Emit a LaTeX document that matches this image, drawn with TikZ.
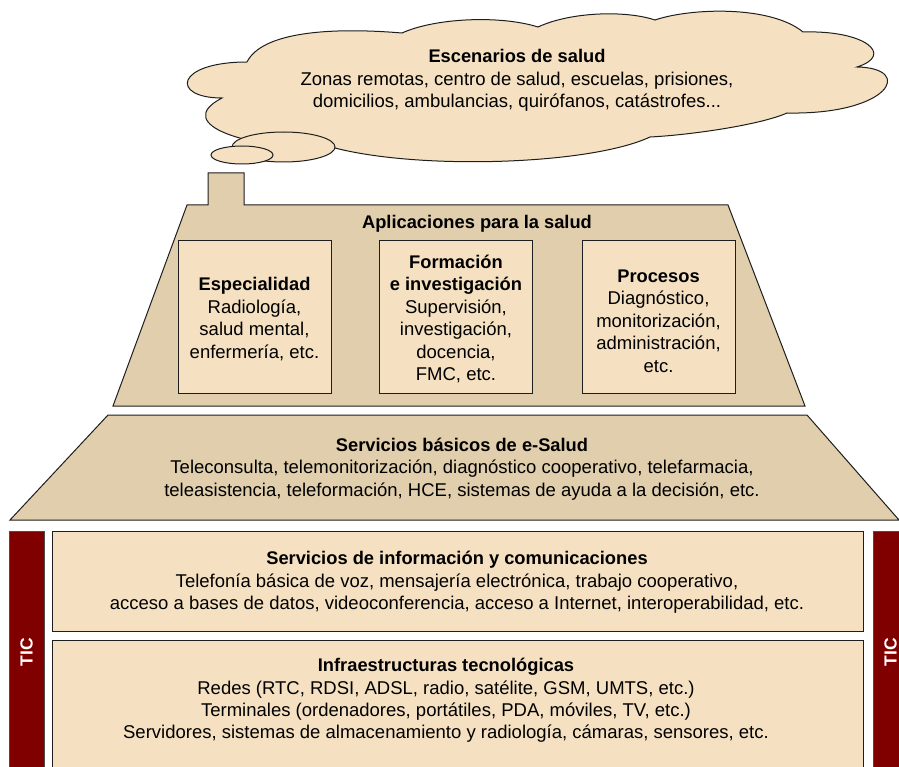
\documentclass[tikz,border=0pt]{standalone}
\usepackage{fontspec}
\setmainfont{Liberation Sans}
\definecolor{tan}{HTML}{E0CEAC}
\definecolor{cream}{HTML}{F5E1C1}
\definecolor{ticred}{HTML}{800000}
\definecolor{edge}{HTML}{1E1E1E}
% headings are set a little tighter than the body lines
\newcommand{\hd}[1]{{\fontsize{18.3}{22.4}\selectfont\bfseries #1}}
\begin{document}
\begin{tikzpicture}[x=1pt,y=-1pt,
  outline/.style={draw=edge, line width=1pt, line join=miter},
  txt/.style={align=center, inner sep=0pt, font=\fontsize{18.5}{22.4}\selectfont},
  appbox/.style={outline, fill=cream, minimum width=153pt, minimum height=152pt,
                 inner sep=0pt},
  layerbox/.style={outline, fill=cream},
  ticbar/.style={draw=black!70, line width=1pt, fill=ticred, rotate=90,
                 minimum width=242pt, minimum height=35pt, inner sep=0pt,
                 text=white, font=\fontsize{17.5}{20}\selectfont\bfseries}
]
\useasboundingbox (0,0) rectangle (899,767);

% ---- cloud of health scenarios ----
\draw[outline, fill=cream]
  (222,98) .. controls (170,98) and (175,62) .. (247,62)
  .. controls (262,32) and (330,27) .. (402,33)
  .. controls (435,18) and (500,15) .. (538,27)
  .. controls (570,12) and (625,10) .. (655,20)
  .. controls (690,8) and (770,5) .. (803,32)
  .. controls (865,30) and (895,55) .. (857,67)
  .. controls (915,68) and (890,115) .. (787,113)
  .. controls (760,125) and (690,135) .. (650,137)
  .. controls (590,165) and (420,170) .. (335,148)
  .. controls (250,150) and (170,125) .. (222,98) -- cycle;
\draw[outline, fill=cream] (283.5,147) ellipse [x radius=51.5, y radius=15];
\draw[outline, fill=cream] (242,155) ellipse [x radius=31, y radius=9];
\node[txt] (scen) at (517,80.5)
  {\hd{Escenarios de salud}\\
   Zonas remotas, centro de salud, escuelas, prisiones,\\
   domicilios, ambulancias, quirófanos, catástrofes...};

% ---- roof with chimney: health applications ----
\draw[outline, fill=tan]
  (113,406) -- (187,205) -- (208,205) -- (208,173) -- (244,173) -- (244,205)
  -- (728,205) -- (805,406) -- cycle;
\node[txt] (apps) at (477,224) {\hd{Aplicaciones para la salud}};
\node[appbox] (esp) at (254.5,317) {};
\node[appbox] (form) at (456,317) {};
\node[appbox] (proc) at (658.5,317) {};
\node[txt] (espT) at ([yshift=-2pt]esp.center)
  {\hd{Especialidad}\\Radiología,\\salud mental,\\enfermería, etc.};
\node[txt] (formT) at ([yshift=-2pt]form.center)
  {\hd{Formación}\\\hd{e investigación}\\Supervisión,\\investigación,\\docencia,\\FMC, etc.};
\node[txt] (procT) at ([yshift=-4pt]proc.center)
  {\hd{Procesos}\\Diagnóstico,\\monitorización,\\administración,\\etc.};

% ---- basic e-health services ----
\draw[outline, fill=tan] (10,520) -- (108,415) -- (807,415) -- (899,520) -- cycle;
\node[txt] (basic) at (462,469)
  {\hd{Servicios básicos de e-Salud}\\
   Teleconsulta, telemonitorización, diagnóstico cooperativo, telefarmacia,\\
   teleasistencia, teleformación, HCE, sistemas de ayuda a la decisión, etc.};

% ---- ICT layers ----
\draw[layerbox] (52,531) rectangle (863,631);
\node[txt] (info) at (457,582.5)
  {\hd{Servicios de información y comunicaciones}\\
   Telefonía básica de voz, mensajería electrónica, trabajo cooperativo,\\
   acceso a bases de datos, videoconferencia, acceso a Internet, interoperabilidad, etc.};
\draw[layerbox] (52,640) rectangle (863,780);
\node[txt] (infra) at (446,700.5)
  {\hd{Infraestructuras tecnológicas}\\
   Redes (RTC, RDSI, ADSL, radio, satélite, GSM, UMTS, etc.)\\
   Terminales (ordenadores, portátiles, PDA, móviles, TV, etc.)\\
   Servidores, sistemas de almacenamiento y radiología, cámaras, sensores, etc.};

% ---- TIC side bars ----
\node[ticbar] (ticL) at (26.5,652) {TIC};
\node[ticbar] (ticR) at (890.5,652) {TIC};
\end{tikzpicture}
\end{document}
